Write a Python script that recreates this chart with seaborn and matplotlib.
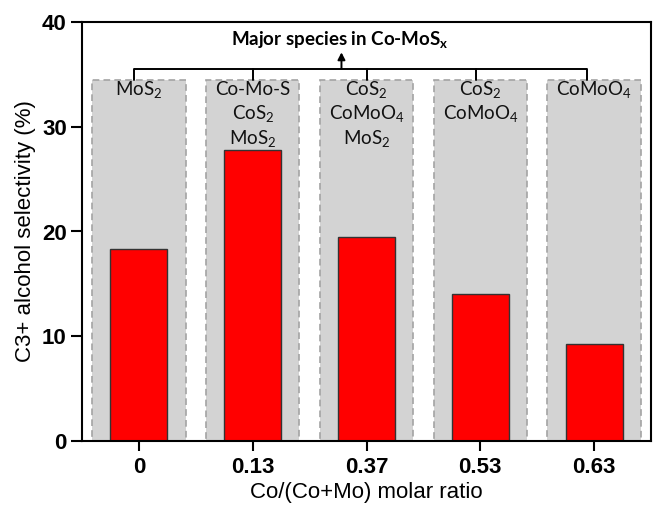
import matplotlib
matplotlib.use("Agg")
import matplotlib.pyplot as plt
import seaborn as sns
import pandas as pd

# ---- data ----
ratios = ["0", "0.13", "0.37", "0.53", "0.63"]
selectivity = [18.3, 27.8, 19.5, 14.0, 9.3]
species = [
    ["MoS$_\\mathregular{2}$"],
    ["Co-Mo-S", "CoS$_\\mathregular{2}$", "MoS$_\\mathregular{2}$"],
    ["CoS$_\\mathregular{2}$", "CoMoO$_\\mathregular{4}$", "MoS$_\\mathregular{2}$"],
    ["CoS$_\\mathregular{2}$", "CoMoO$_\\mathregular{4}$"],
    ["CoMoO$_\\mathregular{4}$"],
]
box_height = [34.5, 34.5, 34.5, 34.5, 34.5]
title_text = "Major species in Co-MoS$_\\mathregular{x}$"
xlabel = "Co/(Co+Mo) molar ratio"
ylabel = "C3+ alcohol selectivity (%)"

sns.set_theme(style="ticks")
plt.rcParams["font.family"] = ["Liberation Sans", "DejaVu Sans"]
plt.rcParams["mathtext.fontset"] = "custom"
plt.rcParams["mathtext.rm"] = "Lato"
for k in ["text.color", "axes.labelcolor", "xtick.color", "ytick.color", "axes.edgecolor"]:
    plt.rcParams[k] = "black"

fig = plt.figure(figsize=(6.53, 5.07), dpi=100)
ax = fig.add_axes([82 / 653, 1 - 441 / 507, (651 - 82) / 653, (441 - 22) / 507])

df = pd.DataFrame({"ratio": ratios, "sel": selectivity})

# gray species boxes
ax.bar(range(len(ratios)), box_height, width=0.82, color="#d3d3d3",
       edgecolor="#a3a3a3", linestyle=(0, (4, 2.5)), linewidth=1.2, zorder=0.5)

sns.barplot(data=df, x="ratio", y="sel", order=ratios, color="#ff0000",
            saturation=1, width=0.5, edgecolor="#333333", linewidth=1.0, ax=ax, zorder=2)

ax.set_ylim(0, 40)
ax.set_xlim(-0.5, 4.5)
ax.set_yticks([0, 10, 20, 30, 40])

# species labels
line_y = [33.0, 30.7, 28.3]
for i, labels in enumerate(species):
    for j, lab in enumerate(labels):
        ax.text(i, line_y[j], lab, ha="center", va="baseline", fontsize=13.5,
                family="Lato", color="#111111", zorder=3)

# bracket
top = box_height[0]
brk = 35.55
ax.plot([-0.04, 3.94], [brk, brk], color="black", lw=1.4, zorder=3, solid_capstyle="butt")
for i, xc in enumerate([-0.04, 1.0, 2.0, 2.96, 3.94]):
    ax.plot([xc, xc], [top, brk], color="black", lw=1.4, zorder=3)
ax.annotate("", xy=(1.78, 37.1), xytext=(1.78, brk),
            arrowprops=dict(arrowstyle="-|>,head_length=0.35,head_width=0.18",
                            color="black", lw=1.4, shrinkA=0, shrinkB=0))
ax.text(1.77, 37.7, title_text, ha="center", va="baseline", fontsize=13.5,
        family="Lato", fontweight="bold", color="black")

for s in ax.spines.values():
    s.set_visible(True)
    s.set_linewidth(1.5)
    s.set_color("black")

ax.tick_params(axis="y", direction="out", length=8, width=1.5, pad=3, labelsize=16)
ax.tick_params(axis="x", direction="out", length=7, width=1.5, pad=4.5, labelsize=16)
for lab in ax.get_xticklabels() + ax.get_yticklabels():
    lab.set_fontweight("bold")

ax.set_xlabel(xlabel, fontsize=16, labelpad=3)
ax.set_ylabel(ylabel, fontsize=16, labelpad=4)

fig.savefig("out.png", dpi=100)
